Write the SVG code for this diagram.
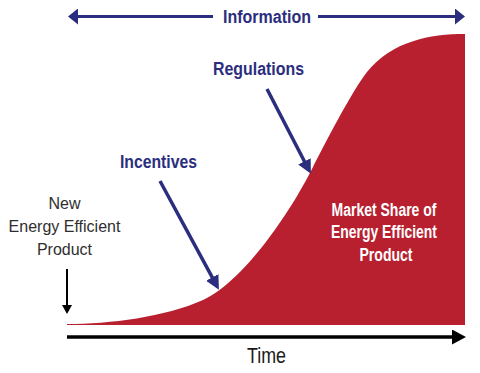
<svg xmlns="http://www.w3.org/2000/svg" width="480" height="373" viewBox="0 0 480 373">
  <style>
    .navy { fill: #2b2e7e; }
    .lbl { font-family: "Liberation Sans", Arial, sans-serif; font-weight: bold; font-size: 18px; fill: #2b2e7e; text-anchor: middle; }
    .inner { font-family: "Liberation Sans", Arial, sans-serif; font-weight: bold; font-size: 17.5px; fill: #ffffff; text-anchor: middle; }
    .plain { font-family: "Liberation Sans", Arial, sans-serif; font-size: 16px; fill: #2e2e2e; text-anchor: middle; }
    .time { font-family: "Liberation Sans", Arial, sans-serif; font-size: 22px; fill: #1a1a1a; text-anchor: middle; }
    .navyline { stroke: #2b2e7e; stroke-width: 3.5; fill: none; }
    .infoline { stroke: #2b2e7e; stroke-width: 3; fill: none; }
    .blackline { stroke: #000000; fill: none; }
  </style>
  <defs>
    <marker id="navyHead" markerUnits="userSpaceOnUse" markerWidth="14" markerHeight="14" viewBox="0 0 14 14" refX="6" refY="7" orient="auto">
      <path d="M0,0 L14,7 L0,14 z" fill="#2b2e7e"/>
    </marker>
    <marker id="infoHead" markerUnits="userSpaceOnUse" markerWidth="10" markerHeight="16" viewBox="0 0 10 16" refX="5" refY="8" orient="auto-start-reverse">
      <path d="M0,0 L10,8 L0,16 z" fill="#2b2e7e"/>
    </marker>
    <marker id="timeHead" markerUnits="userSpaceOnUse" markerWidth="14" markerHeight="15" viewBox="0 0 14 15" refX="6.5" refY="7.5" orient="auto">
      <path d="M0,0 L14,7.5 L0,15 z" fill="#000000"/>
    </marker>
    <marker id="downHead" markerUnits="userSpaceOnUse" markerWidth="10" markerHeight="10" viewBox="0 0 10 10" refX="4" refY="5" orient="auto">
      <path d="M0,0 L9,5 L0,10 z" fill="#000000"/>
    </marker>
  </defs>

  <g id="market-share-area">
    <path d="M67,324 C110,324 165,317 203,300 C241,283 288,217 313,167 C323,147 352,91 367,72 C392,41 430,34 465,34 L465,325 L67,325 Z" fill="#b8202f"/>
    <text class="inner" x="384" y="216" textLength="105" lengthAdjust="spacingAndGlyphs">Market Share of</text>
    <text class="inner" x="384" y="238" textLength="106" lengthAdjust="spacingAndGlyphs">Energy Efficient</text>
    <text class="inner" x="386" y="261" textLength="53" lengthAdjust="spacingAndGlyphs">Product</text>
  </g>

  <g id="information">
    <text class="lbl" x="267" y="23" textLength="88" lengthAdjust="spacingAndGlyphs">Information</text>
  </g>

  <g id="regulations">
    <text class="lbl" x="258.5" y="75" textLength="91" lengthAdjust="spacingAndGlyphs">Regulations</text>
  </g>

  <g id="incentives">
    <text class="lbl" x="158.5" y="168" textLength="77" lengthAdjust="spacingAndGlyphs">Incentives</text>
  </g>

  <g id="new-product">
    <text class="plain" x="64.5" y="209">New</text>
    <text class="plain" x="64.5" y="232">Energy Efficient</text>
    <text class="plain" x="64.5" y="255">Product</text>
  </g>

  <g id="time">
    <text class="time" x="266.5" y="363" textLength="39" lengthAdjust="spacingAndGlyphs">Time</text>
  </g>

  <g id="connectors">
    <line class="infoline" x1="213" y1="16.5" x2="73" y2="16.5" marker-end="url(#infoHead)"/>
    <line class="infoline" x1="318" y1="16.5" x2="460" y2="16.5" marker-end="url(#infoHead)"/>
    <line class="navyline" x1="267" y1="89" x2="307.2" y2="166.7" marker-end="url(#navyHead)"/>
    <line class="navyline" x1="160" y1="181" x2="215.1" y2="282.7" marker-end="url(#navyHead)"/>
    <line class="blackline" stroke-width="2" x1="67" y1="269" x2="67" y2="309" marker-end="url(#downHead)"/>
    <line class="blackline" stroke-width="3.5" x1="67" y1="337" x2="458.5" y2="337" marker-end="url(#timeHead)"/>
  </g>
</svg>
